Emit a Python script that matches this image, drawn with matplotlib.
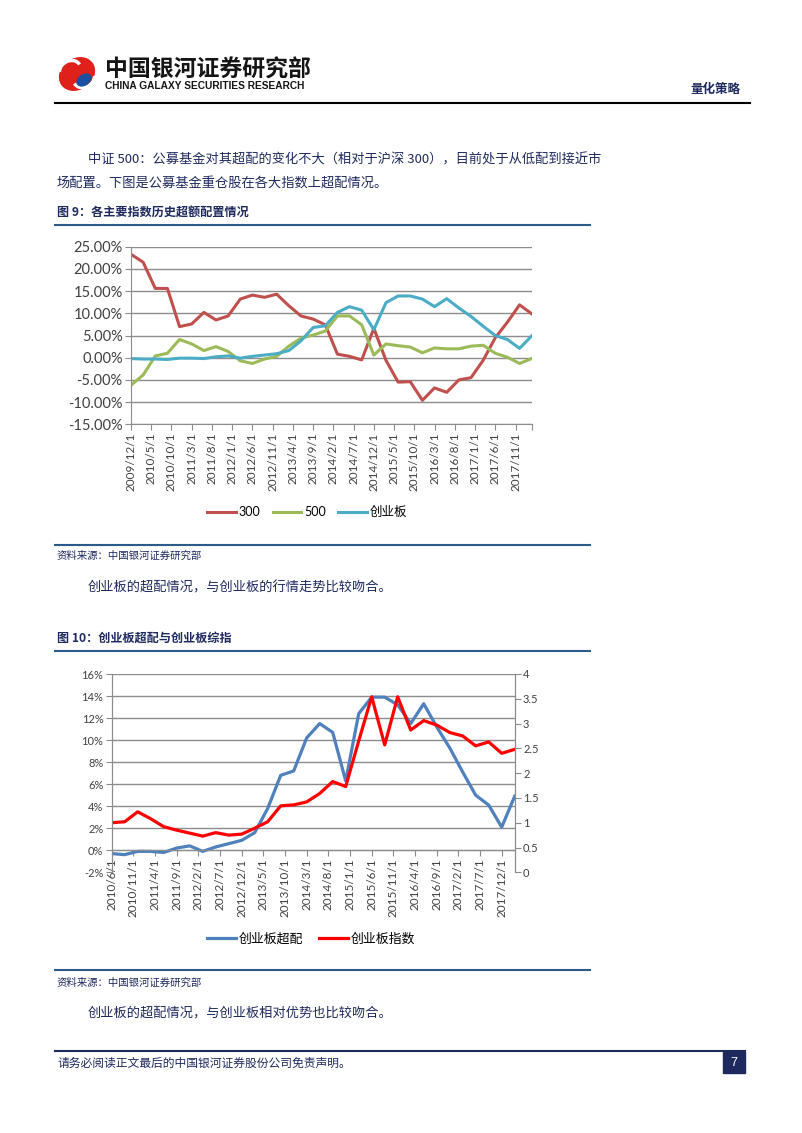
import matplotlib.pyplot as plt
from matplotlib.patches import Ellipse, Rectangle, Arc

plt.rcParams['font.family'] = ['Noto Sans CJK SC', 'DejaVu Sans']

# figure 9: quarterly over-weight (%) from 2009/12
over_300 = [23.3, 21.5, 15.6, 15.6, 7.0, 7.6, 10.2, 8.5, 9.4, 13.2,
            14.1, 13.6, 14.3, 11.7, 9.4, 8.7, 7.4, 0.8, 0.3, -0.5,
            6.6, -0.6, -5.5, -5.4, -9.6, -6.8, -7.8, -5.0, -4.5, -0.6,
            4.5, 8.0, 11.9, 9.9]
over_500 = [-6.2, -3.9, 0.4, 1.0, 4.1, 3.1, 1.6, 2.5, 1.4, -0.7,
            -1.3, -0.3, 0.3, 2.6, 4.4, 5.1, 6.0, 9.4, 9.4, 7.4,
            0.6, 3.1, 2.7, 2.4, 1.1, 2.2, 2.0, 2.0, 2.6, 2.8,
            1.0, 0.1, -1.3, -0.2]
over_gem = [-0.2, -0.3, -0.3, -0.4, -0.1, -0.1, -0.2, 0.2, 0.4, -0.1,
            0.3, 0.6, 0.9, 1.6, 3.8, 6.8, 7.2, 10.2, 11.5, 10.7,
            6.3, 12.4, 13.9, 13.9, 13.2, 11.5, 13.3, 11.2, 9.3, 7.1,
            5.0, 4.1, 2.1, 4.9]
names1 = ['300', '500', '创业板']
colors1 = ['#C0504D', '#9BBB59', '#4BACC6']

# figure 10: quarterly from 2010/6
gem_over = [-0.3, -0.4, -0.1, -0.1, -0.2, 0.2, 0.4, -0.1, 0.3, 0.6,
            0.9, 1.6, 3.8, 6.8, 7.2, 10.2, 11.5, 10.7, 6.3, 12.4,
            13.9, 13.9, 13.2, 11.5, 13.3, 11.2, 9.3, 7.1, 5.0, 4.1,
            2.1, 4.9]
gem_index = [1.00, 1.02, 1.22, 1.08, 0.92, 0.85, 0.79, 0.73, 0.80, 0.75,
             0.77, 0.89, 1.02, 1.34, 1.36, 1.42, 1.59, 1.83, 1.73, 2.65,
             3.54, 2.57, 3.54, 2.87, 3.06, 2.97, 2.82, 2.75, 2.55, 2.63,
             2.40, 2.48]
names2 = ['创业板超配', '创业板指数']

W, H = 802, 1133
navy = '#1e2a5e'
rule = '#2a5a8a'
grid_c = '#8c8c8c'
tick_c = '#404040'
chart_font = ['Lato', 'Noto Sans CJK SC']


def month_label(y, m, off):
    k = (m - 1) + off
    return f"{y + k // 12}/{k % 12 + 1}/1"


def box(x0, y0, x1, y1):
    return [x0 / W, 1 - y1 / H, (x1 - x0) / W, (y1 - y0) / H]


fig = plt.figure(figsize=(W / 100, H / 100), dpi=100)
page = fig.add_axes([0, 0, 1, 1])
page.set_xlim(0, W)
page.set_ylim(H, 0)
page.axis('off')

# header / logo
page.add_patch(Ellipse((77, 74), 37, 30, angle=-35, color='#e0201b'))
page.add_patch(Arc((70, 70), 22, 18, angle=-30, theta1=200, theta2=360, color='white', lw=2.5))
page.add_patch(Arc((84, 78), 22, 18, angle=-30, theta1=20, theta2=180, color='white', lw=2.5))
page.add_patch(Ellipse((84, 80), 15, 10, angle=-35, color='#1d4fa0'))
page.text(105, 70, '中国银河证券研究部', fontsize=16.5, fontweight='bold', color='#151515', va='center')
page.text(105, 86, 'CHINA GALAXY SECURITIES RESEARCH', family='Liberation Sans',
          fontweight='bold', fontsize=7.3, color='#151515', va='center')
page.text(740, 89, '量化策略', ha='right', va='center', fontsize=9, fontweight='bold', color=navy)
page.plot([55, 750], [103, 103], color='black', lw=1.5)

page.text(88, 160, '中证 500：公募基金对其超配的变化不大（相对于沪深 300），目前处于从低配到接近市',
          fontsize=9.5, color=navy, va='center')
page.text(57, 183, '场配置。下图是公募基金重仓股在各大指数上超配情况。', fontsize=9.5, color=navy, va='center')
page.text(57, 212, '图 9：各主要指数历史超额配置情况', fontsize=8.7, fontweight='bold', color=navy, va='center')
page.plot([55, 590], [225, 225], color=rule, lw=1.5)

page.plot([55, 590], [545, 545], color=rule, lw=1.5)
page.text(57, 556, '资料来源：中国银河证券研究部', fontsize=7.5, style='italic', color=navy, va='center')
page.text(88, 588, '创业板的超配情况，与创业板的行情走势比较吻合。', fontsize=9.5, color=navy, va='center')
page.text(57, 638, '图 10：创业板超配与创业板综指', fontsize=8.7, fontweight='bold', color=navy, va='center')
page.plot([55, 590], [651, 651], color=rule, lw=1.5)

page.plot([55, 590], [970, 970], color=rule, lw=1.5)
page.text(57, 983, '资料来源：中国银河证券研究部', fontsize=7.5, style='italic', color=navy, va='center')
page.text(88, 1013, '创业板的超配情况，与创业板相对优势也比较吻合。', fontsize=9.5, color=navy, va='center')

page.plot([55, 745], [1051, 1051], color=navy, lw=1.5)
page.text(57, 1063, '请务必阅读正文最后的中国银河证券股份公司免责声明。', fontsize=8.5, color=navy, va='center')
page.add_patch(Rectangle((723, 1052), 22, 21, color=navy))
page.text(734, 1063, '7', color='white', fontsize=9, ha='center', va='center', family='Liberation Sans')

# ---- figure 9 ----
ax1 = fig.add_axes(box(131, 246.7, 531.7, 424.3))
ax1.patch.set_alpha(0)
x1 = [3 * i for i in range(len(over_300))]
for vals, c, n in zip([over_300, over_500, over_gem], colors1, names1):
    ax1.plot(x1, vals, color=c, lw=2.2, label=n, solid_joinstyle='round')
ax1.set_xlim(0, 99)
ax1.set_ylim(-15, 25)
yt = list(range(-15, 30, 5))
ax1.set_yticks(yt)
ax1.set_yticklabels([f'{v:.2f}%' for v in yt], family=chart_font, fontsize=10.5, color=tick_c)
xt = list(range(0, 100, 5)) + [99]
ax1.set_xticks(xt)
ax1.set_xticklabels([month_label(2009, 12, t) for t in range(0, 100, 5)] + [''],
                    rotation=90, family=chart_font, fontsize=8.5, color=tick_c)
ax1.grid(axis='y', color=grid_c, lw=1)
ax1.set_axisbelow(True)
for s in ['top', 'right']:
    ax1.spines[s].set_visible(False)
for s in ['left', 'bottom']:
    ax1.spines[s].set_color(grid_c)
ax1.tick_params(direction='out', length=4, color=grid_c, pad=2)
ax1.legend(loc='center', bbox_to_anchor=(307 / W, 1 - 512 / H), bbox_transform=fig.transFigure,
           ncol=3, frameon=False, handlelength=2.3, columnspacing=1.0, handletextpad=0.2,
           prop={'family': chart_font, 'size': 9})

# ---- figure 10 ----
ax2 = fig.add_axes(box(111.7, 674, 514.7, 872.3))
ax2.patch.set_alpha(0)
ax2.spines['bottom'].set_position(('data', 0))
ax3 = ax2.twinx()
x2 = [3 * i for i in range(len(gem_over))]
l1, = ax2.plot(x2, gem_over, color='#4F81BD', lw=2.3, solid_joinstyle='round')
l2, = ax3.plot(x2, gem_index, color='#FF0000', lw=2.3, solid_joinstyle='round')
ax2.set_xlim(0, 93)
ax2.set_ylim(-2, 16)
ax3.set_ylim(0, 4)
lt = list(range(-2, 18, 2))
ax2.set_yticks(lt)
ax2.set_yticklabels([f'{v}%' for v in lt], family=chart_font, fontsize=8, color=tick_c)
rt = [0.5 * k for k in range(9)]
ax3.set_yticks(rt)
ax3.set_yticklabels([f'{v:g}' for v in rt], family=chart_font, fontsize=8, color=tick_c)
xt2 = list(range(0, 91, 5))
ax2.set_xticks(xt2)
ax2.set_xticklabels([month_label(2010, 6, t) for t in xt2], rotation=90,
                    family=chart_font, fontsize=8.5, color=tick_c)
ax2.grid(axis='y', color=grid_c, lw=1)
ax2.get_ygridlines()[0].set_visible(False)
ax2.set_axisbelow(True)
for a in (ax2, ax3):
    a.spines['top'].set_visible(False)
    for s in ['left', 'right', 'bottom']:
        a.spines[s].set_color(grid_c)
    a.tick_params(direction='out', length=4, color=grid_c, pad=2)
ax3.spines['bottom'].set_visible(False)
ax2.legend([l1, l2], names2, loc='center', bbox_to_anchor=(311 / W, 1 - 938 / H),
           bbox_transform=fig.transFigure, ncol=2, frameon=False, handlelength=2.3,
           columnspacing=1.2, handletextpad=0.2, prop={'family': chart_font, 'size': 9.3})

fig.savefig('out.png', dpi=100)
